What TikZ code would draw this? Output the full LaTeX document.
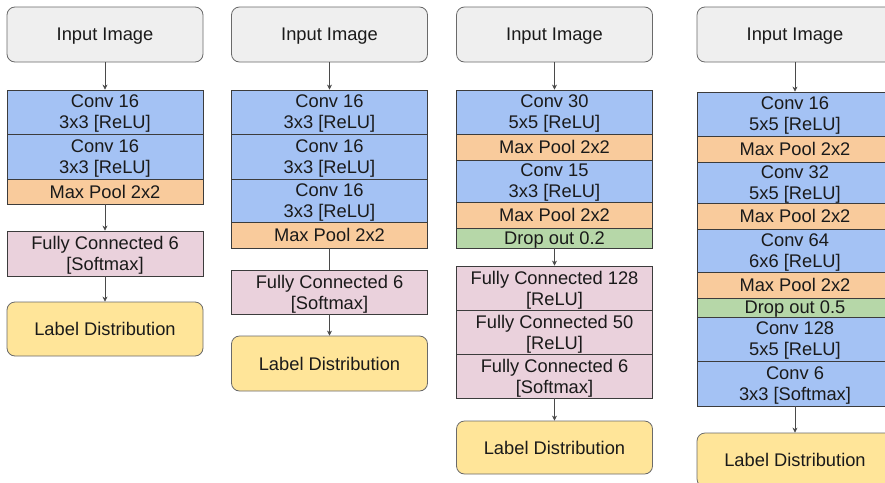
\documentclass[tikz,border=0pt]{standalone}
\usepackage{fontspec}
\setmainfont{Liberation Sans}
\usetikzlibrary{arrows.meta}
\definecolor{ingray}{HTML}{EFEFEF}
\definecolor{inborder}{HTML}{6A6A6A}
\definecolor{convblue}{HTML}{A4C2F4}
\definecolor{poolorange}{HTML}{F9CB9C}
\definecolor{dropgreen}{HTML}{B6D7A8}
\definecolor{fcpink}{HTML}{EAD1DC}
\definecolor{labyellow}{HTML}{FFE599}
\definecolor{cellborder}{HTML}{3C3C3C}
\definecolor{txt}{HTML}{1A1A1A}
\definecolor{arrowgray}{HTML}{4A4A4A}
\begin{document}
\begin{tikzpicture}[x=1pt,y=-1pt,
  every node/.style={font=\fontsize{18.3}{21}\selectfont, text=txt, align=center, inner sep=0pt, text depth=0pt},
  cell/.style={rectangle, draw=cellborder, line width=0.8pt, minimum width=196pt},
  rbox/.style={rectangle, rounded corners=8pt, draw=inborder, line width=0.8pt, minimum width=196pt},
  inbox/.style={rbox, fill=ingray, minimum height=55pt},
  labbox/.style={rbox, fill=labyellow, minimum height=54pt},
  conv/.style={cell, fill=convblue},
  pool/.style={cell, fill=poolorange},
  drop/.style={cell, fill=dropgreen},
  fc/.style={cell, fill=fcpink},
  link/.style={draw=arrowgray, line width=0.7pt, -{Stealth[length=5pt,width=5pt]}},
  plainlink/.style={draw=arrowgray, line width=0.7pt}
]
\useasboundingbox (0,0) rectangle (885,482);
\fill[white] (0,0) rectangle (885,482);

% ---------- Column 1 ----------
\node[inbox] (in1) at (105,34.5) {Input Image};
\node[conv, minimum height=44pt] (c1a) at (105,112) {Conv 16\\3x3 [ReLU]};
\node[conv, minimum height=45pt] (c1b) at (105,156.5) {Conv 16\\3x3 [ReLU]};
\node[pool, minimum height=25pt] (p1) at (105,191.5) {Max Pool 2x2};
\node[fc, minimum height=45pt] (f1) at (105,253.5) {Fully Connected 6\\{}[Softmax]};
\node[labbox] (l1) at (105,329) {Label Distribution};
\draw[link] (in1) -- (c1a);
\draw[link] (p1) -- (f1);
\draw[link] (f1) -- (l1);

% ---------- Column 2 ----------
\node[inbox] (in2) at (329.5,34.5) {Input Image};
\node[conv, minimum height=44pt] (c2a) at (329.5,112) {Conv 16\\3x3 [ReLU]};
\node[conv, minimum height=45pt] (c2b) at (329.5,156.5) {Conv 16\\3x3 [ReLU]};
\node[conv, minimum height=43pt] (c2c) at (329.5,200.5) {Conv 16\\3x3 [ReLU]};
\node[pool, minimum height=26pt] (p2) at (329.5,235) {Max Pool 2x2};
\node[fc, minimum height=44pt] (f2) at (329.5,292) {Fully Connected 6\\{}[Softmax]};
\node[labbox, minimum height=55pt] (l2) at (329.5,363.5) {Label Distribution};
\draw[link] (in2) -- (c2a);
\draw[plainlink] (p2) -- (f2);
\draw[link] (f2) -- (l2);

% ---------- Column 3 ----------
\node[inbox] (in3) at (554.5,34.5) {Input Image};
\node[conv, minimum height=44pt] (c3a) at (554.5,112) {Conv 30\\5x5 [ReLU]};
\node[pool, minimum height=26pt] (p3a) at (554.5,147) {Max Pool 2x2};
\node[conv, minimum height=42pt] (c3b) at (554.5,181) {Conv 15\\3x3 [ReLU]};
\node[pool, minimum height=26pt] (p3b) at (554.5,215) {Max Pool 2x2};
\node[drop, minimum height=20pt] (d3) at (554.5,238) {Drop out 0.2};
\node[fc, minimum height=44pt] (f3a) at (554.5,288) {Fully Connected 128\\{}[ReLU]};
\node[fc, minimum height=44pt] (f3b) at (554.5,332) {Fully Connected 50\\{}[ReLU]};
\node[fc, minimum height=44pt] (f3c) at (554.5,376) {Fully Connected 6\\{}[Softmax]};
\node[labbox, minimum height=53pt] (l3) at (554.5,447.5) {Label Distribution};
\draw[link] (in3) -- (c3a);
\draw[link] (d3) -- (f3a);
\draw[link] (f3c) -- (l3);

% ---------- Column 4 ----------
\node[inbox] (in4) at (795,34.5) {Input Image};
\node[conv, minimum height=44pt] (c4a) at (795,114) {Conv 16\\5x5 [ReLU]};
\node[pool, minimum height=26pt] (p4a) at (795,149) {Max Pool 2x2};
\node[conv, minimum height=41pt] (c4b) at (795,182.5) {Conv 32\\5x5 [ReLU]};
\node[pool, minimum height=26pt] (p4b) at (795,216) {Max Pool 2x2};
\node[conv, minimum height=43pt] (c4c) at (795,250.5) {Conv 64\\6x6 [ReLU]};
\node[pool, minimum height=26pt] (p4c) at (795,285) {Max Pool 2x2};
\node[drop, minimum height=19pt] (d4) at (795,307.5) {Drop out 0.5};
\node[conv, minimum height=44pt] (c4d) at (795,339) {Conv 128\\5x5 [ReLU]};
\node[conv, minimum height=45pt] (c4e) at (795,383.5) {Conv 6\\3x3 [Softmax]};
\node[labbox] (l4) at (795,460) {Label Distribution};
\draw[link] (in4) -- (c4a);
\draw[link] (c4e) -- (l4);
\end{tikzpicture}
\end{document}
